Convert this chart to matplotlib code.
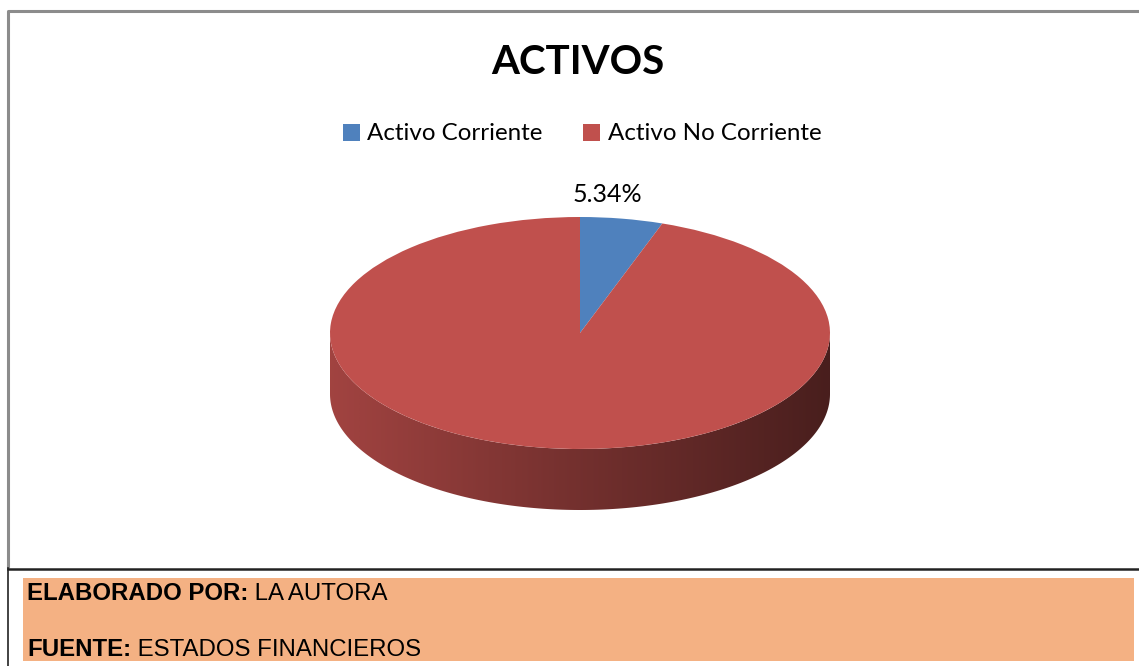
import matplotlib
matplotlib.use("Agg")
import matplotlib.pyplot as plt
import numpy as np
from matplotlib.colors import LinearSegmentedColormap, to_rgb
from matplotlib.patches import Polygon, Rectangle

# data
categories = ['Activo Corriente', 'Activo No Corriente']
values = [5.34, 94.66]
colors = ['#4f81bd', '#c0504d']
title = 'ACTIVOS'
footer_bold = ['ELABORADO POR:', 'FUENTE:']
footer_text = [' LA AUTORA', ' ESTADOS FINANCIEROS']

W, H = 1139, 666
fig = plt.figure(figsize=(W / 100, H / 100), dpi=100)

# background axes in pixel coords
bg = fig.add_axes([0, 0, 1, 1])
bg.set_xlim(0, W)
bg.set_ylim(H, 0)
bg.axis('off')

# chart border (grey) and table lines (black)
bg.plot([8, 8, W + 5], [568, 11, 11], color='#8c8c8c', lw=2.2, solid_capstyle='butt')
bg.plot([8, W], [568.5, 568.5], color='#222222', lw=1.8)
bg.plot([8, 8], [568, H], color='#222222', lw=1.2)

# orange footer box
bg.add_patch(Rectangle((23, 578), 1111, 83, facecolor='#f4b183', edgecolor='none'))
font_foot = 'Liberation Sans'
for i, (b, t) in enumerate(zip(footer_bold, footer_text)):
    y = 594 + i * 55
    tb = bg.text(27, y, b, fontsize=17.3, fontweight='bold', family=font_foot,
                 va='center', ha='left')
    bg.annotate(t, xy=(1, 0), xycoords=tb, va='bottom', ha='left',
                fontsize=17.3, family=font_foot)

# title
cal = ['Lato', 'DejaVu Sans']
bg.text(578, 63, title, fontsize=29, fontweight='bold', family=cal,
        ha='center', va='center')

# 3D pie (ellipse) axes
cx_l, cx_r, top_px, bot_px = 330, 830, 217, 510
ry_px = 116
depth = 61 / ry_px
ax = fig.add_axes([cx_l / W, (H - bot_px) / H, (cx_r - cx_l) / W, (bot_px - top_px) / H])

wedges, _ = ax.pie(values, colors=colors, startangle=90, counterclock=False,
                   radius=1, center=(0, 0), wedgeprops=dict(linewidth=0))
for w in wedges:
    w.set_zorder(3)

# side walls for the front half
angles = np.concatenate([[0], np.cumsum(values)]) / sum(values) * 360
for i, c in enumerate(colors):
    a1 = 90 - angles[i + 1]
    a0 = 90 - angles[i]
    # front half is angles in (-180, 0) (mod 360)
    for shift in (0, -360, 360):
        lo = max(a1 + shift, -180)
        hi = min(a0 + shift, 0)
        if hi <= lo:
            continue
        t = np.radians(np.linspace(lo, hi, 200))
        xs, ys = np.cos(t), np.sin(t)
        pts = np.vstack([np.column_stack([xs, ys]),
                         np.column_stack([xs[::-1], ys[::-1] - depth])])
        poly = Polygon(pts, closed=True, facecolor='none', edgecolor='none')
        ax.add_patch(poly)
        base = np.array(to_rgb(c))
        cmap = LinearSegmentedColormap.from_list(
            'side', [base * 0.84, base * 0.6, base * 0.38])
        grad = np.linspace(0, 1, 256).reshape(1, -1)
        im = ax.imshow(grad, cmap=cmap, extent=(-1, 1, -1 - depth, 0),
                       aspect='auto', zorder=2, interpolation='bicubic')
        im.set_clip_path(poly)

ax.set_xlim(-1, 1)
ax.set_ylim(-1 - depth, 1)
ax.set_aspect('auto')
ax.axis('off')

# data labels
label_pos = [(607, 195), (522, 418)]
for v, (x, y) in zip(values, label_pos):
    bg.text(x, y, f'{v:.2f}%', fontsize=18, family=cal, ha='center', va='center',
            zorder=10)

# legend
handles = [Rectangle((0, 0), 1, 1, facecolor=c) for c in colors]
fig.legend(handles, categories, loc='center', bbox_to_anchor=(582 / W, 1 - 134 / H),
           ncol=2, frameon=False, prop={'family': cal, 'size': 17.4},
           handlelength=0.7, handleheight=0.7, handletextpad=0.3,
           columnspacing=1.7)

fig.savefig('out.png', dpi=100)
